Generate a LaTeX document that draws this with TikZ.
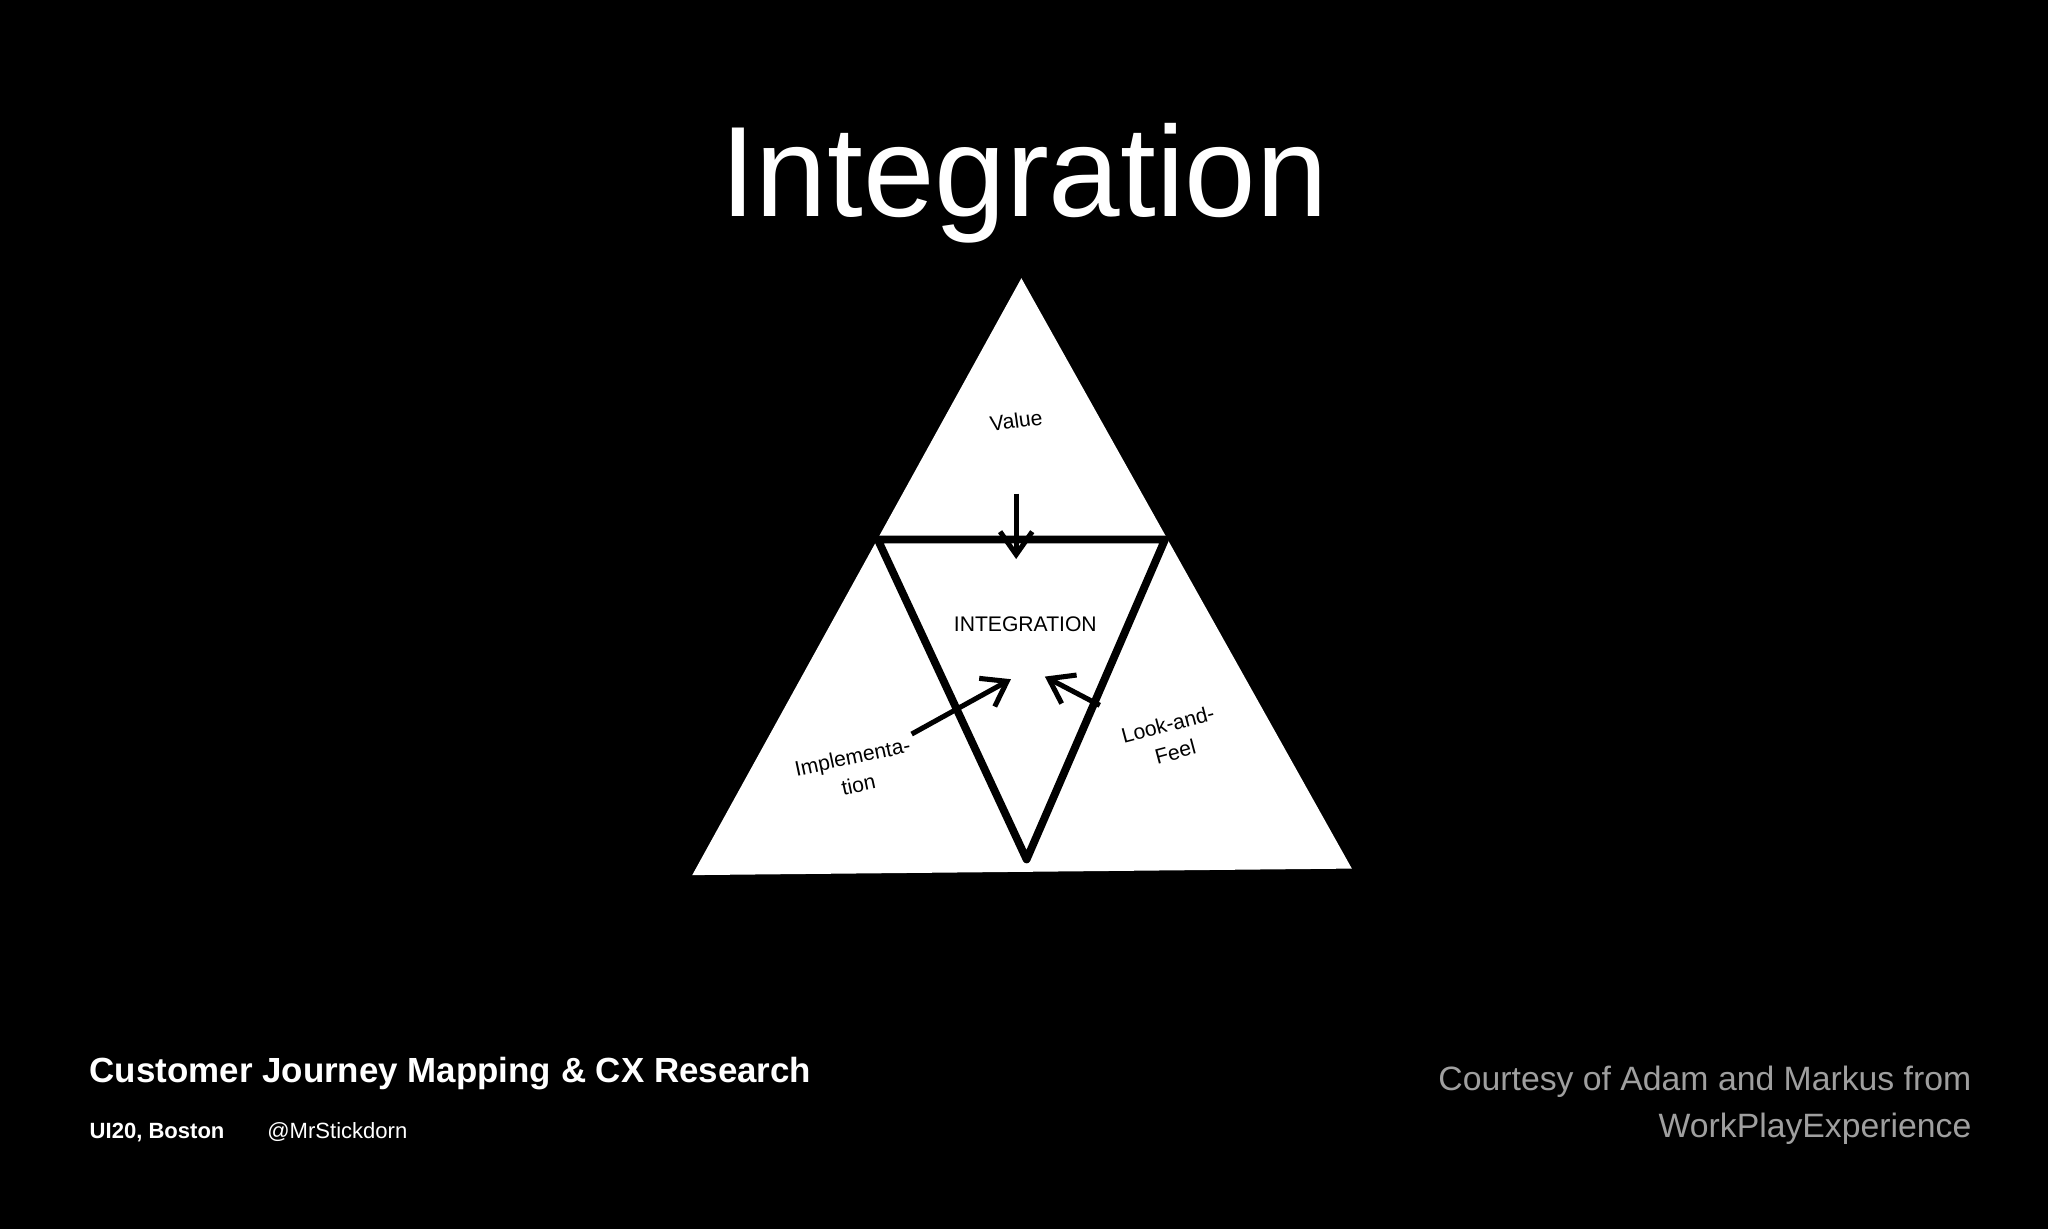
\documentclass[tikz,border=0pt]{standalone}
\usepackage{fontspec}
\setmainfont{Liberation Sans}
\usetikzlibrary{arrows.meta}
\begin{document}
\begin{tikzpicture}[x=0.01cm,y=-0.01cm,
  ink/.style={black,line width=1.7pt,line join=round},
  arr/.style={black,line width=1.1pt,-{Straight Barb[length=5pt,width=7pt]}},
  hand/.style={black,font=\fontsize{4.6}{6.2}\selectfont},
  foot/.style={white,anchor=west,inner sep=0pt}]
\fill[black] (0,0) rectangle (1568,941);
\useasboundingbox (0,0) rectangle (1568,941);
\node (title) at (784,140) {\color{white}\fontsize{28}{30}\selectfont Integration};
\coordinate (A) at (782,213);
\coordinate (L) at (530,670);
\coordinate (R) at (1035,665);
\fill[white] (A) -- (L) -- (R) -- cycle;
\coordinate (p) at (672,413);
\coordinate (q) at (892,413);
\coordinate (v) at (786,658);
\draw[ink] (p) -- (q) -- (v) -- cycle;
\node[hand,rotate=8] (val) at (778,322) {Value};
\coordinate (va) at (778,378);
\coordinate (vb) at (778,428);
\draw[arr] (va) -- (vb);
\node[hand] (integ) at (785,478) {INTEGRATION};
\node[hand,rotate=12,align=center] (impl) at (655,590) {Implementa-\\tion};
\node[hand,rotate=15,align=center] (look) at (897,565) {Look-and-\\Feel};
\coordinate (ia) at (698,562);
\coordinate (ib) at (774,520);
\draw[arr] (ia) -- (ib);
\coordinate (la) at (842,540);
\coordinate (lb) at (800,518);
\draw[arr] (la) -- (lb);
\node[foot,font=\bfseries\fontsize{7.6}{9}\selectfont] (cj) at (68,822) {Customer Journey Mapping \& CX Research};
\node[foot,font=\bfseries\fontsize{4.8}{6}\selectfont] (ui) at (68,867) {UI20, Boston};
\node[foot,font=\fontsize{4.8}{6}\selectfont] (mr) at (204,867) {@MrStickdorn};
\node[anchor=east,align=right,inner sep=0pt,text=gray!75,font=\fontsize{7.35}{10.2}\selectfont] (court) at (1510,846) {Courtesy of Adam and Markus from\\WorkPlayExperience};
\end{tikzpicture}
\end{document}
